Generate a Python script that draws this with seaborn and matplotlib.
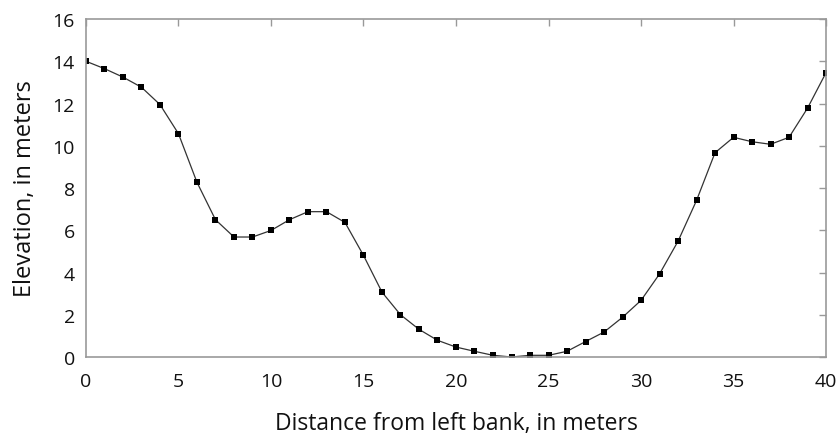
import matplotlib
matplotlib.use("Agg")
import matplotlib.pyplot as plt
import seaborn as sns
import pandas as pd

# Cross-section survey: distance from left bank (m) and bed elevation (m)
distance = list(range(0, 41))
elevation = [14.0, 13.65, 13.25, 12.77, 11.95, 10.57, 8.27, 6.5, 5.68, 5.68,
             5.99, 6.5, 6.88, 6.88, 6.37, 4.81, 3.07, 2.0, 1.31, 0.79,
             0.47, 0.27, 0.08, 0.0, 0.08, 0.08, 0.27, 0.73, 1.18, 1.88,
             2.68, 3.93, 5.48, 7.41, 9.67, 10.4, 10.19, 10.07, 10.4, 11.78,
             13.46]

x_ticks = [0, 5, 10, 15, 20, 25, 30, 35, 40]
y_ticks = [0, 2, 4, 6, 8, 10, 12, 14, 16]

df = pd.DataFrame({"distance": distance, "elevation": elevation})

sns.set_style("white")
plt.rcParams["font.family"] = ["Open Sans", "DejaVu Sans"]

fig = plt.figure(figsize=(8.37, 4.35), dpi=100)
ax = fig.add_axes([0.1027, 0.177, 0.8842, 0.777])

sns.lineplot(data=df, x="distance", y="elevation", ax=ax, color="#333333",
             linewidth=0.9, marker="s", markersize=3.8,
             markerfacecolor="black", markeredgecolor="black",
             markeredgewidth=0)

ax.set_xlim(0, 40)
ax.set_ylim(0, 16)
ax.set_xticks(x_ticks)
ax.set_yticks(y_ticks)
ax.tick_params(direction="in", length=5, width=1, color="#999999",
               labelsize=14, labelcolor="#111111", top=True, right=True,
               labeltop=False, labelright=False)
ax.tick_params(axis="x", pad=11)
ax.tick_params(axis="y", pad=8)
for side in ax.spines.values():
    side.set_color("#999999")
    side.set_linewidth(1.2)

ax.set_xlabel("Distance from left bank, in meters", fontsize=16.5,
              color="#111111", labelpad=15)
ax.set_ylabel("Elevation, in meters", fontsize=17, color="#111111",
              labelpad=11)

fig.savefig("out.png", dpi=100)
